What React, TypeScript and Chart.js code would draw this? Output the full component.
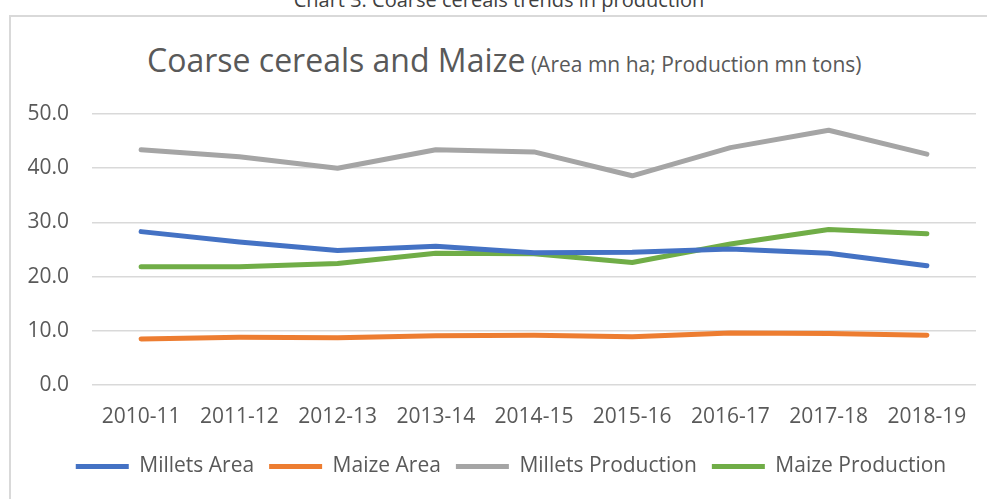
import React, { useEffect, useRef } from "react";
import { Chart, registerables } from "chart.js";

Chart.register(...registerables);

const categories = ["2010-11", "2011-12", "2012-13", "2013-14", "2014-15", "2015-16", "2016-17", "2017-18", "2018-19"];
const milletsArea = [28.3, 26.4, 24.8, 25.6, 24.4, 24.5, 25.1, 24.3, 22.0];
const maizeArea = [8.5, 8.8, 8.7, 9.1, 9.2, 8.9, 9.6, 9.5, 9.2];
const milletsProduction = [43.4, 42.1, 40.0, 43.4, 43.0, 38.6, 43.8, 47.0, 42.6];
const maizeProduction = [21.8, 21.8, 22.4, 24.3, 24.2, 22.6, 26.0, 28.7, 27.9];
const seriesNames = ["Millets Area", "Maize Area", "Millets Production", "Maize Production"];
const seriesColors = ["#4472C4", "#ED7D31", "#A5A5A5", "#70AD47"];
const yTicks = [0, 10, 20, 30, 40, 50];

const FONT = "'Open Sans', sans-serif";
const TEXT = "#595959";

const shiftLegend = {
  id: "shiftLegend",
  afterLayout(chart: any) {
    const l = chart.legend;
    if (l) {
      l.left += 13;
      l.right += 13;
    }
  },
};

export default function App() {
  const ref = useRef<HTMLCanvasElement>(null);
  useEffect(() => {
    if (!ref.current) return;
    const series = [milletsArea, maizeArea, milletsProduction, maizeProduction];
    const chart = new Chart(ref.current, {
      type: "line",
      data: {
        labels: categories,
        datasets: series.map((d, i) => ({
          label: seriesNames[i],
          data: d,
          borderColor: seriesColors[i],
          backgroundColor: seriesColors[i],
          borderWidth: 5,
          borderCapStyle: "round" as const,
          borderJoinStyle: "round" as const,
          pointRadius: 0,
          pointHoverRadius: 0,
          tension: 0,
          fill: false,
        })),
      },
      plugins: [shiftLegend],
      options: {
        responsive: false,
        animation: false,
        devicePixelRatio: 1,
        layout: { padding: { top: 114, left: 20, right: 11, bottom: 12 } },
        plugins: {
          tooltip: { enabled: false },
          title: { display: false },
          legend: {
            position: "bottom",
            labels: {
              usePointStyle: true,
              pointStyle: "line",
              pointStyleWidth: 53,
              padding: 15,
              color: TEXT,
              font: { family: FONT, size: 21 },
            },
          },
        },
        scales: {
          x: {
            offset: true,
            grid: { display: false, drawTicks: false },
            border: { display: false },
            ticks: { color: TEXT, font: { family: FONT, size: 21 }, padding: 19, maxRotation: 0, autoSkip: false },
            afterFit: (s: any) => { s.height = 56; },
          },
          y: {
            min: 0,
            max: 50,
            afterBuildTicks: (s: any) => { s.ticks = yTicks.map((v) => ({ value: v })); },
            grid: { color: "#D9D9D9", lineWidth: 1.5, drawTicks: false },
            border: { display: false },
            ticks: {
              color: TEXT,
              font: { family: FONT, size: 21 },
              padding: 23,
              callback: (v: any) => Number(v).toFixed(1),
            },
            afterFit: (s: any) => { s.width = 72; },
          },
        },
      },
    });
    return () => chart.destroy();
  }, []);

  return (
    <div style={{ position: "absolute", left: 0, top: 0, width: 987, height: 499, overflow: "hidden", background: "#fff", fontFamily: FONT, color: TEXT }}>
      <div style={{ position: "absolute", left: 0, top: -10, width: 998, textAlign: "center", fontSize: 20, lineHeight: "20px", whiteSpace: "nowrap", color: "#404040" }}>
        Chart 3: Coarse cereals trends in production
      </div>
      <div style={{ position: "absolute", left: 9, top: 15, width: 1100, height: 700, border: "2px solid #D9D9D9", boxSizing: "border-box" }} />
      <div style={{ position: "absolute", left: 147, top: 44, whiteSpace: "nowrap", lineHeight: "32px" }}>
        <span style={{ fontSize: 32 }}>Coarse cereals and Maize</span>
        <span style={{ fontSize: 21 }}> (Area mn ha; Production mn tons)</span>
      </div>
      <canvas ref={ref} width={987} height={499} style={{ position: "absolute", left: 0, top: 0, width: 987, height: 499 }} />
    </div>
  );
}
